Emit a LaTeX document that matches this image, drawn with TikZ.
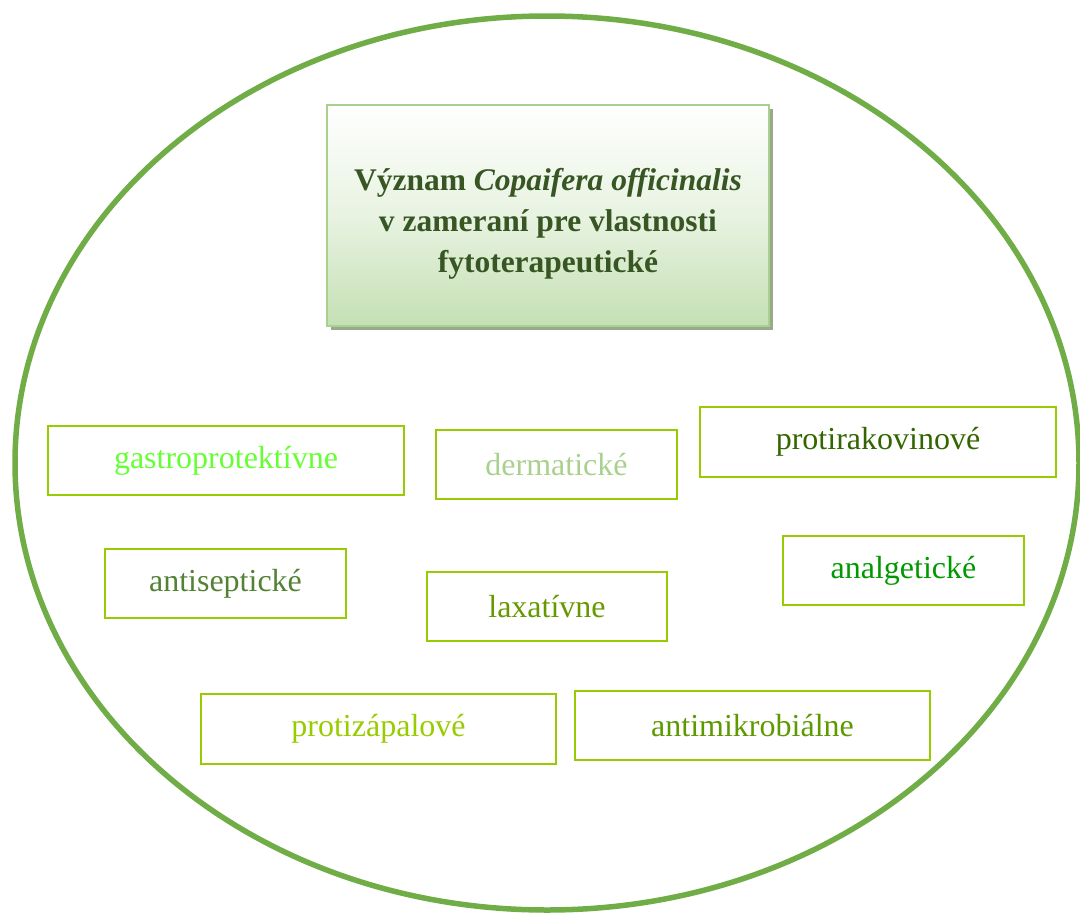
\documentclass[tikz,border=0pt]{standalone}
\usepackage{fontspec}
\setmainfont{Liberation Serif}
\definecolor{ringgreen}{HTML}{70AD47}
\definecolor{boxline}{HTML}{99CC00}
\definecolor{titleline}{HTML}{A9D18E}
\definecolor{titlefill}{HTML}{C5E0B4}
\definecolor{titletext}{HTML}{375623}
\definecolor{shadowcol}{HTML}{9AA88E}
\definecolor{cGastro}{HTML}{66FF33}
\definecolor{cDerm}{HTML}{A9D18E}
\definecolor{cRak}{HTML}{336600}
\definecolor{cSept}{HTML}{548235}
\definecolor{cLax}{HTML}{669900}
\definecolor{cAnalg}{HTML}{009900}
\definecolor{cZap}{HTML}{99CC00}
\definecolor{cMikro}{HTML}{5E9900}
\begin{document}
\begin{tikzpicture}[x=1pt,y=-1pt,
  propbox/.style={draw=boxline, line width=2.6pt, rectangle, inner sep=0pt,
    font=\fontsize{32}{38}\selectfont},
  titlebox/.style={draw=titleline, line width=2.6pt, rectangle,
    top color=white, bottom color=titlefill, middle color=white!60!titlefill,
    inner sep=0pt},
  titlelabel/.style={align=center, inner sep=0pt,
    font=\fontsize{31.5}{41}\selectfont\bfseries, text=titletext}]
  \useasboundingbox (0,0) rectangle (1080,913);
  \clip (0,0) rectangle (1080,913);

  % outer ring
  \draw[ringgreen, line width=5.5pt] (547,463) ellipse [x radius=532, y radius=447];

  % title box with its shadow
  \fill[shadowcol] (331,109) rectangle (773,330);
  \node[titlebox, minimum width=442pt, minimum height=221pt] (title) at (548,215.5) {};
  \node[titlelabel] (titletxt) at (548,224)
    {Význam \textit{Copaifera officinalis}\\v zameraní pre vlastnosti\\fytoterapeutické};

  % properties
  \node[propbox, minimum width=356pt, minimum height=69pt, text=cGastro] (gastro) at (226,460.5) {gastroprotektívne};
  \node[propbox, minimum width=241pt, minimum height=69pt, text=cDerm] (derm) at (556.5,464.5) {dermatické};
  \node[propbox, minimum width=356pt, minimum height=70pt, text=cRak] (rak) at (878,442) {protirakovinové};
  \node[propbox, minimum width=241pt, minimum height=69pt, text=cSept] (sept) at (225.5,583.5) {antiseptické};
  \node[propbox, minimum width=240pt, minimum height=69pt, text=cLax] (lax) at (547,606.5) {laxatívne};
  \node[propbox, minimum width=241pt, minimum height=69pt, text=cAnalg] (analg) at (903.5,570.5) {analgetické};
  \node[propbox, minimum width=355pt, minimum height=70pt, text=cZap] (zap) at (378.5,729) {protizápalové};
  \node[propbox, minimum width=355pt, minimum height=69pt, text=cMikro] (mikro) at (752.5,725.5) {antimikrobiálne};
\end{tikzpicture}
\end{document}
